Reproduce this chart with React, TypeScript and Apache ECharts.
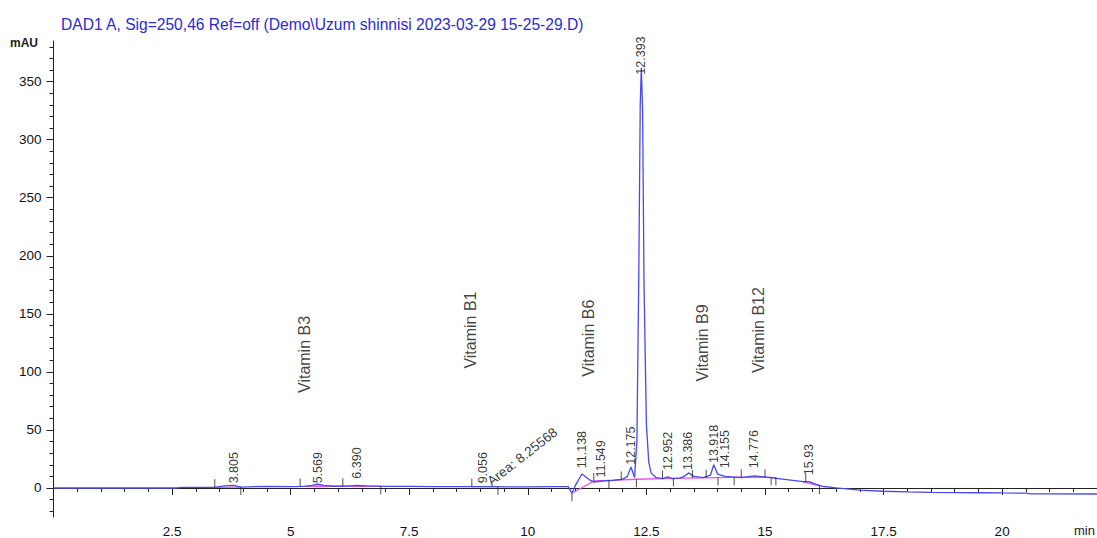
import React, { useEffect, useRef } from "react";
import * as echarts from "echarts";

const titleText = "DAD1 A, Sig=250,46 Ref=off (Demo\\Uzum shinnisi 2023-03-29 15-25-29.D)";

// chromatogram trace (min, mAU)
const times = [0, 2.6, 2.7, 3.4, 3.6, 3.8, 3.95, 4.1, 4.5, 5.0, 5.3, 5.45, 5.57, 5.7, 5.9, 6.2, 6.39, 6.6, 7.0, 7.5, 8.0, 8.5, 9.0, 9.3, 9.6, 10.0, 10.5, 10.85, 10.93, 11.0, 11.14, 11.3, 11.4, 11.55, 11.8, 12.0, 12.1, 12.175, 12.25, 12.3, 12.34, 12.37, 12.393, 12.42, 12.45, 12.5, 12.55, 12.6, 12.7, 12.85, 12.95, 13.05, 13.2, 13.3, 13.39, 13.5, 13.7, 13.85, 13.92, 14.0, 14.155, 14.3, 14.5, 14.78, 15.0, 15.2, 15.5, 15.8, 15.93, 16.05, 16.2, 16.5, 17.0, 17.5, 18.0, 18.5, 19.0, 19.5, 20.0, 20.5, 20.6, 21.0, 22.0];
const signal = [0, 0, 0.5, 0.6, 1.8, 2.2, 0.8, 1.0, 1.3, 1.2, 1.3, 2.2, 3.2, 2.2, 1.5, 1.6, 2.2, 1.8, 1.4, 1.3, 1.2, 1.2, 1.2, 1.1, 1.0, 1.0, 1.1, 1.1, -4.5, 2, 12, 7, 5, 6, 6.5, 7.5, 10, 18, 9, 40, 185, 330, 362, 325, 175, 55, 22, 13, 9, 8, 9.5, 8, 8.5, 10, 13, 10, 9, 11, 20, 12, 10, 9.5, 9, 10.5, 9.5, 8.5, 7, 5.5, 5.5, 3.5, 1.5, 0, -1.8, -2.8, -3.4, -3.8, -4.0, -4.1, -4.3, -4.4, -5.0, -5.1, -5.2];

// integration baselines (null separates segments)
const baseTimes = [3.4, 3.95, null, 5.2, 6.1, 6.9, null, 8.82, 9.37, null, 10.93, 11.39, 11.71, 12.29, 13.07, 14.01, 14.5, 15.23, null, 15.8, 16.15];
const baseValues = [0.6, 0.8, null, 1.3, 1.5, 1.4, null, 1.2, 1.1, null, -4.5, 6, 6.6, 7.5, 8.3, 9.0, 9.3, 9.0, null, 5.2, 1.8];

// integration event ticks
const startTickTimes = [3.4, 5.2, 6.1, 8.82, 11.39, 11.97, 12.84, 13.47, 13.76, 14.5, 15.0, 15.86];
const startTickValues = [0.6, 1.3, 1.5, 1.2, 6, 7.3, 8.2, 8.6, 8.9, 9.3, 9.3, 5.2];
const endTickTimes = [3.95, 6.9, 9.37, 10.93, 11.71, 12.29, 13.07, 14.01, 14.35, 15.13, 15.23, 16.15];
const endTickValues = [0.8, 1.4, 1.1, -4.5, 6.6, 7.5, 8.3, 9.0, 9.2, 9.2, 9.0, 1.8];

// peak retention-time labels
const peakLabels = ["3.805", "5.569", "6.390", "9.056", "11.138", "11.549", "12.175", "12.393", "12.952", "13.386", "13.918", "14.155", "14.776", "15.93"];
const peakTimes = [3.805, 5.569, 6.39, 9.056, 11.138, 11.549, 12.175, 12.393, 12.952, 13.386, 13.918, 14.155, 14.776, 15.93];
const peakLabelBase = [4, 4, 8, 4, 17, 9, 20, 356, 15.5, 15.5, 21.5, 17, 17, 11];

// compound annotations
const compoundNames = ["Vitamin B3", "Vitamin B1", "Vitamin B6", "Vitamin B9", "Vitamin B12"];
const compoundTimes = [5.3, 8.8, 11.28, 13.68, 14.86];
const compoundLevels = [115, 136, 129, 125, 136];

const areaText = "Area: 8.25568";
const areaTime = 9.18;
const areaLevel = 4.5;

const yMajorTicks = [0, 50, 100, 150, 200, 250, 300, 350];
const yMinorTicks = [-20, -10, 10, 20, 30, 40, 60, 70, 80, 90, 110, 120, 130, 140, 160, 170, 180, 190, 210, 220, 230, 240, 260, 270, 280, 290, 310, 320, 330, 340, 360, 370, 380];

const FONT = "Arial, 'Liberation Sans', sans-serif";

export default function App() {
  const ref = useRef<HTMLDivElement>(null);
  useEffect(() => {
    document.body.style.margin = "0";
    if (!ref.current) return;
    const chart = echarts.init(ref.current, null, { renderer: "svg" });
    const trace = times.map((t, i) => [t, signal[i]]);
    const base = baseTimes.map((t, i) => (t === null ? [null, null] : [t, baseValues[i]]));
    const yAxisCommon = {
      type: "value",
      min: -25,
      max: 385,
      splitLine: { show: false },
    };
    chart.setOption({
      animation: false,
      backgroundColor: "#ffffff",
      textStyle: { fontFamily: FONT },
      title: {
        text: titleText,
        left: 56,
        top: 11,
        textStyle: { color: "#2a2ad8", fontSize: 15.6, fontWeight: "normal", fontFamily: FONT },
      },
      graphic: [
        { type: "text", left: 10, top: 37, style: { text: "mAU", fontSize: 12, fontWeight: "bold", fill: "#222", fontFamily: FONT } },
        { type: "text", left: 1074, top: 524, style: { text: "min", fontSize: 13, fill: "#222", fontFamily: FONT } },
      ],
      grid: { left: 53.5, right: -3, top: 41, bottom: 21, containLabel: false },
      xAxis: {
        type: "value",
        min: 0,
        max: 22,
        interval: 2.5,
        axisLine: { lineStyle: { color: "#222", width: 1 } },
        axisTick: { length: 7, lineStyle: { color: "#222" } },
        minorTick: { show: true, splitNumber: 5, length: 4, lineStyle: { color: "#222" } },
        splitLine: { show: false },
        axisLabel: { showMinLabel: false, showMaxLabel: false, margin: 7, fontSize: 13.5, color: "#111", fontFamily: FONT },
      },
      yAxis: [
        {
          ...yAxisCommon,
          axisLine: { show: true, lineStyle: { color: "#222", width: 1 } },
          axisTick: { show: true, length: 7, customValues: yMajorTicks, lineStyle: { color: "#222" } },
          axisLabel: { customValues: yMajorTicks, margin: 12, fontSize: 13.5, color: "#111", fontFamily: FONT },
        },
        {
          ...yAxisCommon,
          position: "left",
          axisLine: { show: false },
          axisTick: { show: true, length: 4, customValues: yMinorTicks, lineStyle: { color: "#222" } },
          axisLabel: { show: false },
        },
      ],
      series: [
        {
          type: "line",
          data: base,
          connectNulls: false,
          symbol: "none",
          lineStyle: { color: "#f050f0", width: 1.3 },
          silent: true,
          z: 2,
        },
        {
          type: "line",
          data: trace,
          symbol: "none",
          lineStyle: { color: "#4848f2", width: 1.3 },
          silent: true,
          z: 3,
        },
        {
          type: "scatter",
          data: startTickTimes.map((t, i) => [t, startTickValues[i]]),
          symbol: "rect",
          symbolSize: [1, 8],
          symbolOffset: [0, -4],
          itemStyle: { color: "#222" },
          silent: true,
          z: 4,
        },
        {
          type: "scatter",
          data: endTickTimes.map((t, i) => [t, endTickValues[i]]),
          symbol: "rect",
          symbolSize: [1, 8],
          symbolOffset: [0, 4],
          itemStyle: { color: "#222" },
          silent: true,
          z: 4,
        },
        {
          type: "scatter",
          data: peakTimes.map((t, i) => ({ value: [t, peakLabelBase[i]], name: peakLabels[i] })),
          symbolSize: 1,
          itemStyle: { color: "rgba(0,0,0,0)" },
          silent: true,
          z: 5,
          label: {
            show: true,
            position: "inside",
            formatter: "{b}",
            rotate: 90,
            align: "left",
            verticalAlign: "middle",
            fontSize: 12.5,
            color: "#000",
            fontFamily: FONT,
          },
        },
        {
          type: "scatter",
          data: compoundTimes.map((t, i) => ({ value: [t, compoundLevels[i]], name: compoundNames[i] })),
          symbolSize: 1,
          itemStyle: { color: "rgba(0,0,0,0)" },
          silent: true,
          z: 5,
          label: {
            show: true,
            position: "inside",
            formatter: "{b}",
            rotate: 90,
            align: "center",
            verticalAlign: "middle",
            fontSize: 16,
            color: "#111",
            fontFamily: FONT,
          },
        },
        {
          type: "scatter",
          data: [{ value: [areaTime, areaLevel], name: areaText }],
          symbolSize: 1,
          itemStyle: { color: "rgba(0,0,0,0)" },
          silent: true,
          z: 5,
          label: {
            show: true,
            position: "inside",
            formatter: "{b}",
            rotate: 38,
            align: "left",
            verticalAlign: "middle",
            fontSize: 13.5,
            color: "#000",
            fontFamily: FONT,
          },
        },
      ],
    });
    return () => chart.dispose();
  }, []);
  return <div ref={ref} style={{ width: 1097, height: 538 }} />;
}
